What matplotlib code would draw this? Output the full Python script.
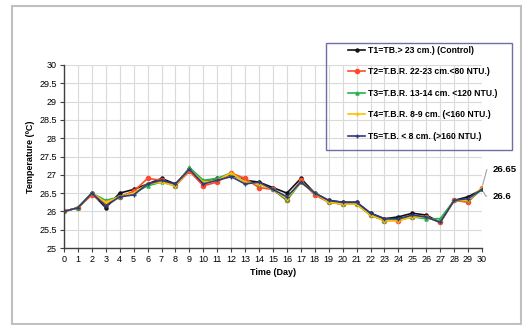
import numpy as np
import matplotlib
matplotlib.use("Agg")
import matplotlib.pyplot as plt
from matplotlib.patches import Rectangle
from matplotlib.ticker import FuncFormatter

plt.rcParams['font.family'] = ['Liberation Sans', 'DejaVu Sans']

days = list(range(31))

t1 = [26.0, 26.1, 26.5, 26.1, 26.5, 26.6, 26.75, 26.9, 26.75, 27.15, 26.8, 26.9, 27.0, 26.85, 26.8, 26.65,
      26.5, 26.9, 26.5, 26.3, 26.25, 26.25, 25.95, 25.8, 25.85, 25.95, 25.9, 25.7, 26.3, 26.4, 26.6]
t2 = [26.0, 26.1, 26.45, 26.2, 26.4, 26.55, 26.9, 26.85, 26.7, 27.1, 26.7, 26.8, 27.05, 26.9, 26.65, 26.6,
      26.3, 26.85, 26.45, 26.25, 26.2, 26.2, 25.9, 25.75, 25.75, 25.85, 25.85, 25.7, 26.3, 26.25, 26.65]
t3 = [26.0, 26.1, 26.5, 26.3, 26.4, 26.5, 26.7, 26.8, 26.7, 27.2, 26.85, 26.9, 27.05, 26.8, 26.75, 26.6,
      26.3, 26.8, 26.5, 26.25, 26.2, 26.2, 25.9, 25.75, 25.8, 25.85, 25.8, 25.8, 26.3, 26.3, 26.6]
t4 = [26.0, 26.1, 26.5, 26.25, 26.4, 26.5, 26.75, 26.8, 26.7, 27.15, 26.8, 26.85, 27.05, 26.8, 26.75, 26.6,
      26.35, 26.8, 26.5, 26.25, 26.2, 26.2, 25.9, 25.75, 25.75, 25.85, 25.85, 25.7, 26.3, 26.3, 26.65]
t5 = [26.0, 26.1, 26.5, 26.15, 26.4, 26.45, 26.75, 26.85, 26.75, 27.15, 26.75, 26.85, 26.95, 26.75, 26.8, 26.6,
      26.4, 26.8, 26.5, 26.3, 26.25, 26.25, 25.95, 25.8, 25.8, 25.9, 25.85, 25.7, 26.3, 26.35, 26.6]

labels = ['T1=TB.> 23 cm.) (Control)',
          'T2=T.B.R. 22-23 cm.<80 NTU.)',
          'T3=T.B.R. 13-14 cm. <120 NTU.)',
          'T4=T.B.R. 8-9 cm. (<160 NTU.)',
          'T5=T.B. < 8 cm. (>160 NTU.)']

series = [t1, t2, t3, t4, t5]
colors = ['#111111', '#ff4b2b', '#22b24c', '#ffc000', '#2f3b7e']
markers = ['o', 'o', '^', '+', '+']
msizes = [2.2, 3.0, 2.2, 3.0, 3.0]

fig = plt.figure(figsize=(5.24, 3.25), dpi=100)
ax = fig.add_axes([0.1221, 0.2369, 0.7977, 0.5631])

for ys, c, m, ms, lab in zip(series, colors, markers, msizes, labels):
    ax.plot(days, ys, color=c, marker=m, markersize=ms, linewidth=1.2, label=lab)

ax.set_xlim(0, 30)
ax.set_ylim(25, 30)
ax.set_xticks(days)
ax.set_yticks(np.arange(25, 30.01, 0.5))
ax.yaxis.set_major_formatter(FuncFormatter(lambda v, p: '%g' % v))
ax.grid(True, color='#dadada', linewidth=0.8)
ax.set_axisbelow(True)
for s in ['top', 'right']:
    ax.spines[s].set_visible(False)
for s in ['left', 'bottom']:
    ax.spines[s].set_color('#404040')
    ax.spines[s].set_linewidth(1.0)
ax.tick_params(axis='both', labelsize=6.5, length=3, width=0.8, color='#404040', pad=2)
ax.set_xlabel('Time (Day)', fontsize=6.5, fontweight='bold', labelpad=3)
ax.set_ylabel('Temperature (ºC)', fontsize=6.5, fontweight='bold', labelpad=3)

# value callouts for the day-30 endpoints
ax.annotate('26.65', xy=(30, t2[-1]), xytext=(30.75, 27.14), fontsize=6.8, fontweight='bold',
            ha='left', va='center', annotation_clip=False,
            arrowprops=dict(arrowstyle='-', color='#a0a0a0', lw=0.8, relpos=(0, 0.5),
                            connectionstyle='angle,angleA=0,angleB=75,rad=0',
                            shrinkA=2, shrinkB=2))
ax.annotate('26.6', xy=(30, t1[-1]), xytext=(30.75, 26.42), fontsize=6.8, fontweight='bold',
            ha='left', va='center', annotation_clip=False,
            arrowprops=dict(arrowstyle='-', color='#a0a0a0', lw=0.8, relpos=(0, 0.5),
                            connectionstyle='angle,angleA=0,angleB=-60,rad=0',
                            shrinkA=2, shrinkB=2))

leg = fig.legend(loc='upper left', bbox_to_anchor=(348 / 524, 1 - 46 / 325),
                 prop={'weight': 'bold', 'size': 6.2}, frameon=False,
                 handlelength=2.0, labelspacing=1.45, borderpad=0, handletextpad=0.3,
                 borderaxespad=0)
fig.patches.append(Rectangle((326 / 524, 1 - 150 / 325), 186 / 524, 107 / 325, transform=fig.transFigure,
                             fill=False, edgecolor='#6e6eaa', linewidth=1.0))

fig.patches.append(Rectangle((12 / 524, 1 / 325), 509 / 524, 318 / 325, transform=fig.transFigure,
                             fill=False, edgecolor='#c0c0c0', linewidth=1.5))

fig.savefig('out.png', dpi=100)
